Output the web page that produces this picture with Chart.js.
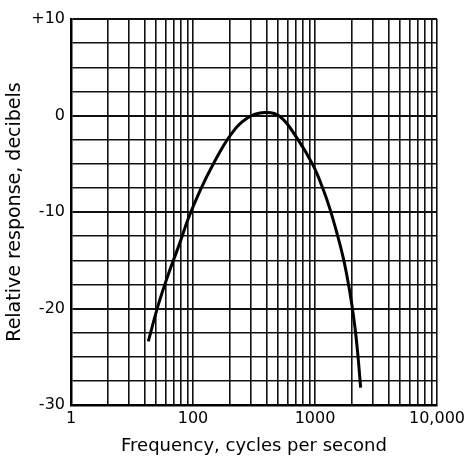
<!DOCTYPE html>
<html>
<head>
<meta charset="utf-8">
<script src="https://cdn.jsdelivr.net/npm/chart.js@4/dist/chart.umd.min.js"></script>
<style>
  html, body { margin: 0; padding: 0; background: #fff; }
  #wrap { width: 469px; height: 457px; }
</style>
</head>
<body>
<div id="wrap"><canvas id="chart"></canvas></div>
<script>
// response curve
const freqs = [43, 52, 63, 78, 92, 114, 147, 201, 275, 389, 516, 708, 968, 1170, 1327, 1506, 1708, 1876, 2000, 2128, 2238, 2367]
const response = [-23.4, -19.6, -16.4, -13.2, -10.6, -7.8, -5.0, -2.1, -0.3, 0.3, -0.1, -2.3, -5.2, -7.7, -9.7, -12.1, -14.8, -17.4, -19.5, -22.0, -24.6, -28.2]

const xTickValues = [10, 100, 1000, 10000]
const xTickLabels = ['1', '100', '1000', '10,000']
const yTickValues = [10, 0, -10, -20, -30]
const yTickLabels = ['+10', '0', '-10', '-20', '-30']

// log grid: 1..9 in every decade
const xGrid = []
for (let d = 10; d < 10000; d *= 10) {
    for (let m = 1; m < 10; m++) xGrid.push(d * m)
}
xGrid.push(10000)

const font = { family: 'DejaVu Sans', size: 16 }
const titleFont = { family: 'DejaVu Sans', size: 18 }

new Chart(document.getElementById('chart'), {
    type: 'line',
    data: {
        datasets: [{
            data: freqs.map((f, i) => ({ x: f, y: response[i] })),
            borderColor: '#000',
            borderWidth: 3,
            pointRadius: 0,
            tension: 0.4,
            fill: false
        }]
    },
    options: {
        animation: false,
        responsive: true,
        maintainAspectRatio: false,
        layout: { padding: { top: 19, right: 32, left: 4, bottom: 0 } },
        plugins: { legend: { display: false }, tooltip: { enabled: false } },
        scales: {
            x: {
                type: 'logarithmic',
                min: 10,
                max: 10000,
                afterBuildTicks: (axis) => { axis.ticks = xGrid.map((v) => ({ value: v })) },
                afterFit: (axis) => { axis.height = 52 },
                ticks: {
                    autoSkip: false,
                    maxRotation: 0,
                    color: '#000',
                    font,
                    padding: 4,
                    callback: (v) => {
                        const i = xTickValues.indexOf(v)
                        return i >= 0 ? xTickLabels[i] : ''
                    }
                },
                grid: { color: '#111', lineWidth: 1.6, drawTicks: false },
                border: { color: '#000', width: 2.5 },
                title: {
                    display: true,
                    text: 'Frequency, cycles per second',
                    color: '#000',
                    font: titleFont,
                    padding: { top: 0, bottom: 0 }
                }
            },
            y: {
                min: -30,
                max: 10,
                afterFit: (axis) => { axis.width = 67 },
                ticks: {
                    stepSize: 2.5,
                    autoSkip: false,
                    color: '#000',
                    font,
                    padding: 6,
                    callback: (v) => {
                        const i = yTickValues.indexOf(v)
                        return i >= 0 ? yTickLabels[i] : ''
                    }
                },
                grid: {
                    color: '#111',
                    lineWidth: (ctx) => (ctx.tick && ctx.tick.value % 10 === 0 ? 2 : 1.4),
                    drawTicks: false
                },
                border: { color: '#000', width: 2.5 },
                title: {
                    display: true,
                    text: 'Relative response, decibels',
                    color: '#000',
                    font: { family: 'DejaVu Sans', size: 19 },
                    padding: { top: 0, bottom: 2 }
                }
            }
        }
    }
})
</script>
</body>
</html>
